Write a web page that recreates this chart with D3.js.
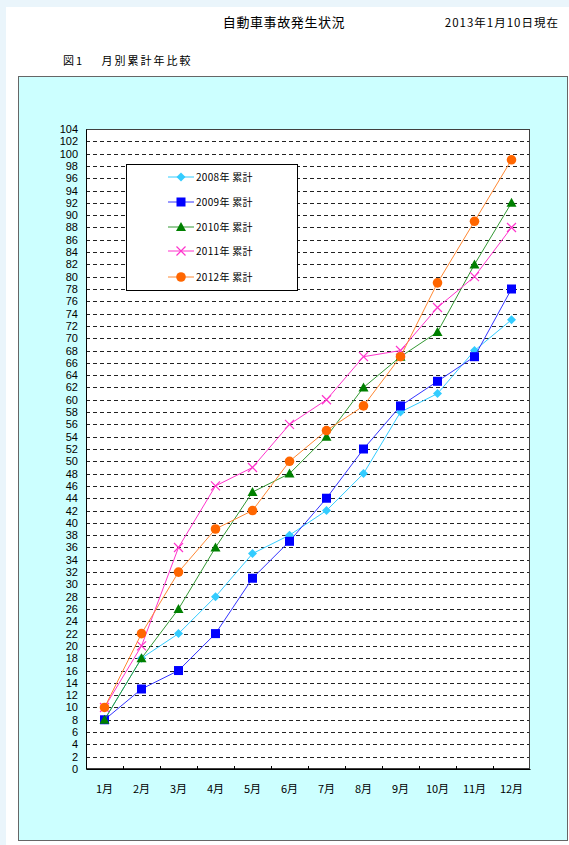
<!DOCTYPE html>
<html><head><meta charset="utf-8">
<script src="https://cdn.jsdelivr.net/npm/d3@7"></script>
<style>html,body{margin:0;padding:0;background:#eaf5fb;}svg{display:block;}</style>
</head><body>
<script>
const months = ["1月","2月","3月","4月","5月","6月","7月","8月","9月","10月","11月","12月"];
const yTicks = d3.range(0, 105, 2);
const seriesNames = ["2008年 累計","2009年 累計","2010年 累計","2011年 累計","2012年 累計"];
const s2008 = [8,18,22,28,35,38,42,48,58,61,68,73];
const s2009 = [8,13,16,22,31,37,44,52,59,63,67,78];
const s2010 = [8,18,26,36,45,48,54,62,67,71,82,92];
const s2011 = [10,20,36,46,49,56,60,67,68,75,80,88];
const s2012 = [10,22,32,39,42,50,55,59,67,79,89,99];
const seriesValues = [s2008, s2009, s2010, s2011, s2012];
const colors = ["#33ccff","#0000ff","#008000","#ff33cc","#ff6600"];
const lineColors = ["#33ccff","#3333ff","#339933","#ff33cc","#ff8833"];
const markers = ["diamond","square","triangle","cross","circle"];

const W = 569, H = 845;
const svg = d3.select("body").append("svg").attr("width", W).attr("height", H);
const font = "'Noto Sans CJK JP', sans-serif";

// page sheet
svg.append("rect").attr("x",6).attr("y",7).attr("width",W-6).attr("height",H-7).attr("fill","#fff");
svg.append("text").attr("x",284).attr("y",27).attr("text-anchor","middle")
  .attr("font-family",font).attr("font-size",13).attr("letter-spacing",0.6).attr("fill","#000").text("自動車事故発生状況");
svg.append("text").attr("x",559).attr("y",27).attr("text-anchor","end")
  .attr("font-family",font).attr("font-size",11.5).attr("letter-spacing",1).attr("fill","#000").text("2013年1月10日現在");
svg.append("text").attr("x",63).attr("y",65)
  .attr("font-family",font).attr("font-size",11).attr("letter-spacing",2).attr("fill","#000").attr("xml:space","preserve").text("図1　 月別累計年比較");

// chart box
svg.append("rect").attr("x",18.5).attr("y",76.5).attr("width",549).attr("height",764)
  .attr("fill","#ccffff").attr("stroke","#666").attr("stroke-width",1);

const L = 86, R = 530, T = 129, B = 769;
const x = d3.scaleBand().domain(months).range([L, R]).padding(0);
const y = d3.scaleLinear().domain([0, 104]).range([B, T]);

svg.append("rect").attr("x",L).attr("y",T).attr("width",R-L).attr("height",B-T).attr("fill","#fff");

// gridlines
svg.append("g").selectAll("line").data(yTicks.filter(d => d > 0 && d < 104)).join("line")
  .attr("x1",L).attr("x2",R).attr("y1",d => Math.round(y(d))+0.5).attr("y2",d => Math.round(y(d))+0.5)
  .attr("stroke","#222").attr("stroke-width",1).attr("stroke-dasharray","4,3");

// plot border
svg.append("rect").attr("x",L+0.5).attr("y",T+0.5).attr("width",R-L-1).attr("height",B-T-1)
  .attr("fill","none").attr("stroke","#404040").attr("stroke-width",1);

// y axis
const yAxis = d3.axisLeft(y).tickValues(yTicks).tickSize(0).tickPadding(8);
const gy = svg.append("g").attr("transform",`translate(${L},0)`).call(yAxis);
gy.select(".domain").attr("stroke","#000");
gy.selectAll("text").attr("font-family","'Liberation Sans', Arial, sans-serif").attr("font-size",11).attr("fill","#000");

// x axis
const xAxis = d3.axisBottom(x).tickSize(0).tickPadding(16);
const gx = svg.append("g").attr("transform",`translate(0,${B})`).call(xAxis);
gx.select(".domain").attr("stroke","#000");
gx.selectAll("text").attr("font-family",font).attr("font-size",11).attr("fill","#000");
// tick marks between categories
svg.append("g").selectAll("line").data(months.slice(1)).join("line")
  .attr("x1",d => Math.round(x(d))+0.5).attr("x2",d => Math.round(x(d))+0.5)
  .attr("y1",B-3).attr("y2",B).attr("stroke","#000");

function drawMarker(g, type, color, cx, cy) {
  if (type === "diamond") {
    g.append("path").attr("d",`M${cx},${cy-4.5}L${cx+4.5},${cy}L${cx},${cy+4.5}L${cx-4.5},${cy}Z`).attr("fill",color);
  } else if (type === "square") {
    g.append("rect").attr("x",cx-4.5).attr("y",cy-4.5).attr("width",9).attr("height",9).attr("fill",color);
  } else if (type === "triangle") {
    g.append("path").attr("d",`M${cx},${cy-5}L${cx+5},${cy+4}L${cx-5},${cy+4}Z`).attr("fill",color);
  } else if (type === "cross") {
    g.append("path").attr("d",`M${cx-4.5},${cy-4.5}L${cx+4.5},${cy+4.5}M${cx+4.5},${cy-4.5}L${cx-4.5},${cy+4.5}`)
      .attr("stroke",color).attr("stroke-width",1.2).attr("fill","none");
  } else {
    g.append("circle").attr("cx",cx).attr("cy",cy).attr("r",4.8).attr("fill",color);
  }
}

const line = d3.line().x((d,i) => x(months[i]) + x.bandwidth()/2).y(d => y(d));
seriesValues.forEach((vals, si) => {
  const g = svg.append("g");
  g.append("path").attr("d", line(vals)).attr("fill","none").attr("stroke",lineColors[si]).attr("stroke-width",1);
  vals.forEach((v,i) => drawMarker(g, markers[si], colors[si], x(months[i]) + x.bandwidth()/2, y(v)));
});

// legend
svg.append("rect").attr("x",126.5).attr("y",164.5).attr("width",171).attr("height",126)
  .attr("fill","#fff").attr("stroke","#000").attr("stroke-width",1);
const legY = [177, 202, 227, 251, 277];
seriesNames.forEach((name, si) => {
  const g = svg.append("g");
  g.append("line").attr("x1",168).attr("x2",194).attr("y1",legY[si]).attr("y2",legY[si])
    .attr("stroke",lineColors[si]).attr("stroke-width",1);
  drawMarker(g, markers[si], colors[si], 181, legY[si]);
  g.append("text").attr("x",196).attr("y",legY[si]+4).attr("font-family",font).attr("font-size",10)
    .attr("letter-spacing",0.3).attr("xml:space","preserve").attr("fill","#000").text(name);
});
</script>
</body></html>
